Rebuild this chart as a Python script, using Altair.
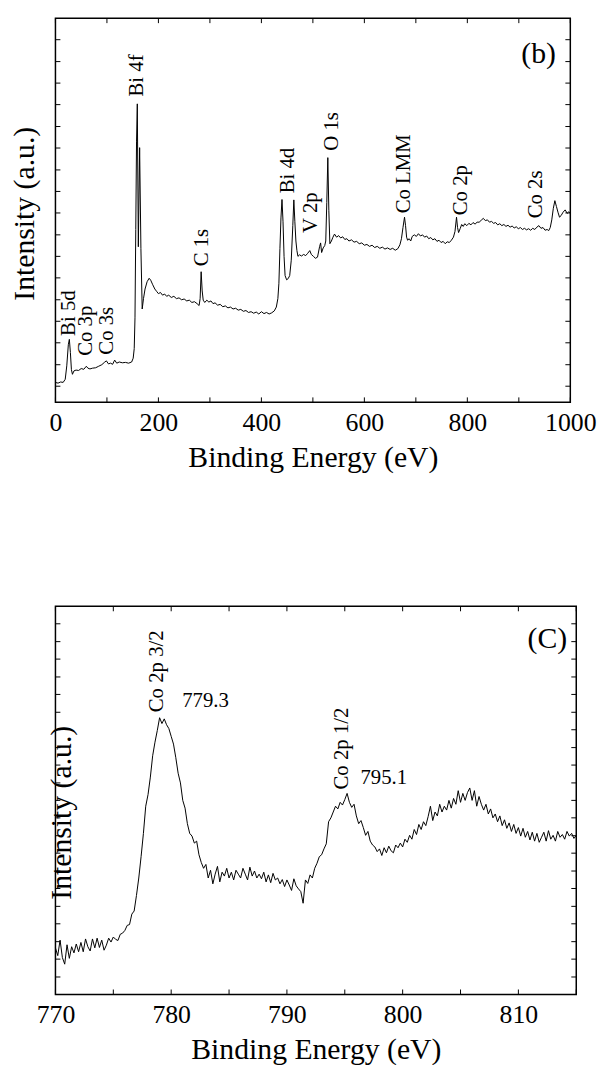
import altair as alt
import pandas as pd

FONT = "Liberation Serif"

# ---------------- survey spectrum (panel b) ----------------
survey_energy = [
    0, 5, 10, 15, 19, 22, 25, 27, 29, 31,
    33, 36, 40, 45, 50, 55, 60, 63, 67, 72,
    78, 84, 90, 95, 99, 103, 107, 111, 115, 119,
    124, 130, 136, 142, 148, 151, 153, 154.5, 156, 157.5,
    159, 161, 163.5, 166, 168.5, 171, 174, 178, 182, 185,
    189, 193, 197, 200, 204, 208, 212, 216, 220, 225,
    230, 235, 240, 245, 250, 255, 260, 265, 270, 275,
    279, 281, 283, 285, 287, 290, 294, 298, 302, 306,
    310, 315, 320, 325, 330, 335, 340, 345, 350, 355,
    360, 365, 370, 375, 380, 385, 390, 395, 400, 405,
    410, 415, 420, 425, 429, 432, 434, 436, 438, 440,
    442, 444, 446, 449, 452, 455, 458, 461, 463, 465,
    467, 469, 471, 474, 478, 482, 486, 490, 494, 497,
    501, 505, 509, 513, 515, 517, 520, 523, 525, 527,
    529, 531, 533, 536, 539, 542, 546, 550, 554, 558,
    562, 566, 570, 575, 580, 585, 590, 595, 600, 605,
    610, 615, 620, 625, 630, 635, 640, 645, 650, 655,
    660, 665, 669, 672, 675, 678, 680, 682, 684, 687,
    690, 693, 697, 701, 705, 709, 713, 717, 721, 725,
    729, 733, 737, 741, 745, 749, 753, 757, 761, 765,
    769, 773, 776, 779, 781, 783, 786, 789, 792, 795,
    799, 803, 807, 811, 815, 819, 823, 827, 831, 835,
    839, 843, 847, 851, 855, 859, 863, 867, 871, 875,
    879, 883, 887, 891, 895, 899, 903, 907, 911, 915,
    919, 923, 927, 931, 935, 939, 943, 947, 951, 955,
    958, 961, 964, 967, 970, 973, 976, 979, 982, 986,
    990, 994, 997, 1000,
]
survey_intensity = [
    5.2, 5.0, 5.3, 5.2, 6.0, 9.5, 15.0, 16.4, 13.0, 8.5,
    7.3, 8.2, 8.4, 8.3, 8.8, 8.6, 9.4, 8.9, 8.7, 8.9,
    9.0, 9.4, 9.8, 10.4, 10.8, 10.0, 10.2, 9.9, 11.0, 10.2,
    10.5, 10.3, 10.4, 10.2, 10.5, 11.5, 14.0, 22.0, 45.0, 68.0,
    77.7, 40.5, 66.3, 40.0, 24.3, 27.0, 29.5, 31.4, 32.3, 31.8,
    30.6, 29.5, 28.8, 28.3, 28.6, 27.9, 28.2, 27.6, 27.9, 27.3,
    27.6, 27.0, 27.2, 26.7, 26.9, 26.4, 26.6, 26.0, 26.2, 25.7,
    25.2, 27.0, 34.0, 29.0, 26.6, 26.0, 26.6, 26.1, 26.4, 25.7,
    25.9, 25.3, 25.5, 24.9, 25.1, 24.6, 24.8, 24.3, 24.5, 24.0,
    24.2, 23.7, 23.9, 23.4, 23.6, 23.2, 23.5, 23.0, 23.6, 23.1,
    23.4, 23.0, 23.3, 23.8, 24.8, 27.0, 31.0, 40.0, 48.0, 52.8,
    47.0, 38.0, 33.0, 31.9, 32.2, 33.0, 37.0, 46.0, 52.7, 47.0,
    42.0, 39.5, 38.0, 38.4, 38.1, 38.5, 38.2, 38.8, 39.5, 38.5,
    38.0, 37.5, 37.8, 40.5, 41.5, 39.0, 40.2, 40.8, 42.0, 52.0,
    63.7, 50.0, 41.3, 42.0, 43.0, 43.8, 43.0, 43.4, 42.8, 43.1,
    42.4, 42.6, 42.0, 42.3, 41.7, 41.9, 41.3, 41.5, 40.9, 41.1,
    40.6, 40.9, 40.3, 40.6, 40.1, 40.4, 39.9, 40.2, 39.8, 40.1,
    39.6, 40.0, 41.0, 42.6, 45.5, 48.2, 46.0, 43.0, 42.2, 42.6,
    42.0, 43.2, 43.6, 43.2, 43.9, 43.3, 43.6, 43.0, 43.3, 42.6,
    42.9, 42.3, 42.6, 41.9, 42.2, 41.6, 41.9, 41.3, 41.8, 41.6,
    42.2, 43.0, 44.5, 48.2, 45.5, 44.2, 45.2, 46.3, 45.8, 46.5,
    46.0, 46.6, 46.2, 46.8, 46.4, 46.9, 46.9, 47.4, 47.9, 47.3,
    47.5, 46.9, 47.1, 46.6, 46.8, 46.2, 46.5, 46.0, 46.3, 45.8,
    46.1, 45.6, 45.9, 45.4, 45.7, 45.2, 45.5, 45.0, 45.3, 44.9,
    45.2, 44.8, 45.3, 45.0, 45.6, 46.0, 45.3, 45.5, 44.8, 45.0,
    44.7, 45.5, 47.5, 50.5, 52.5, 51.0, 49.5, 48.2, 48.6, 49.5,
    50.1, 49.2, 49.6, 49.3,
]

survey_labels = ["Bi 5d", "Co 3p", "Co 3s", "Bi 4f", "C 1s", "Bi 4d",
                 "V 2p", "O 1s", "Co LMM", "Co 2p", "Co 2s"]
survey_label_energy = [26, 59, 101, 159, 284, 451, 497, 537, 678, 787, 934]
survey_label_intensity = [17.3, 12.1, 12.4, 79.6, 35.4, 54.4, 44.1, 65.5, 49.2, 48.7, 47.9]

survey_xticks = [0, 100, 200, 300, 400, 500, 600, 700, 800, 900, 1000]
survey_xlabels = [0, 200, 400, 600, 800, 1000]
survey_yticks = [94.4, 88.7, 83.1, 77.5, 71.8, 66.2, 60.5, 54.9, 49.3,
                 43.6, 38.0, 32.4, 26.7, 21.1, 15.5, 9.8, 4.2]

# ---------------- Co 2p high-resolution spectrum (panel C) ----------------
co_energy = [
    770.0, 770.2, 770.4, 770.6, 770.8, 771.0, 771.2, 771.4, 771.6, 771.8,
    772.0, 772.2, 772.4, 772.6, 772.8, 773.0, 773.2, 773.4, 773.6, 773.8,
    774.0, 774.2, 774.4, 774.6, 774.8, 775.0, 775.2, 775.4, 775.6, 775.8,
    776.0, 776.2, 776.4, 776.6, 776.8, 777.0, 777.2, 777.4, 777.6, 777.8,
    778.0, 778.2, 778.4, 778.6, 778.8, 779.0, 779.2, 779.4, 779.6, 779.8,
    780.0, 780.2, 780.4, 780.6, 780.8, 781.0, 781.2, 781.4, 781.6, 781.8,
    782.0, 782.2, 782.4, 782.6, 782.8, 783.0, 783.2, 783.4, 783.6, 783.8,
    784.0, 784.2, 784.4, 784.6, 784.8, 785.0, 785.2, 785.4, 785.6, 785.8,
    786.0, 786.2, 786.4, 786.6, 786.8, 787.0, 787.2, 787.4, 787.6, 787.8,
    788.0, 788.2, 788.4, 788.6, 788.8, 789.0, 789.2, 789.4, 789.6, 789.8,
    790.0, 790.2, 790.4, 790.6, 790.8, 791.0, 791.2, 791.4, 791.6, 791.8,
    792.0, 792.2, 792.4, 792.6, 792.8, 793.0, 793.2, 793.4, 793.6, 793.8,
    794.0, 794.2, 794.4, 794.6, 794.8, 795.0, 795.2, 795.4, 795.6, 795.8,
    796.0, 796.2, 796.4, 796.6, 796.8, 797.0, 797.2, 797.4, 797.6, 797.8,
    798.0, 798.2, 798.4, 798.6, 798.8, 799.0, 799.2, 799.4, 799.6, 799.8,
    800.0, 800.2, 800.4, 800.6, 800.8, 801.0, 801.2, 801.4, 801.6, 801.8,
    802.0, 802.2, 802.4, 802.6, 802.8, 803.0, 803.2, 803.4, 803.6, 803.8,
    804.0, 804.2, 804.4, 804.6, 804.8, 805.0, 805.2, 805.4, 805.6, 805.8,
    806.0, 806.2, 806.4, 806.6, 806.8, 807.0, 807.2, 807.4, 807.6, 807.8,
    808.0, 808.2, 808.4, 808.6, 808.8, 809.0, 809.2, 809.4, 809.6, 809.8,
    810.0, 810.2, 810.4, 810.6, 810.8, 811.0, 811.2, 811.4, 811.6, 811.8,
    812.0, 812.2, 812.4, 812.6, 812.8, 813.0, 813.2, 813.4, 813.6, 813.8,
    814.0, 814.2, 814.4, 814.6, 814.8, 815.0,
]
co_intensity = [
    12.0, 10.0, 14.0, 9.5, 7.8, 12.8, 9.3, 12.3, 10.7, 13.0,
    11.0, 13.4, 11.0, 14.3, 12.3, 11.2, 14.3, 12.0, 14.5, 12.1,
    14.0, 11.4, 12.7, 14.5, 13.5, 14.8, 14.2, 13.9, 15.5, 15.8,
    16.5, 17.8, 18.0, 20.7, 21.5, 25.5, 30.0, 35.5, 41.5, 48.5,
    51.5, 56.0, 61.5, 65.0, 68.0, 71.3, 69.8, 71.0, 69.5, 68.5,
    66.5, 64.5, 61.0, 57.0, 54.5, 50.0, 48.0, 44.0, 41.5, 40.8,
    39.0, 39.5, 36.0, 34.0, 32.5, 33.5, 30.0, 32.0, 28.5, 31.0,
    33.0, 29.0, 31.5, 30.5, 32.5, 30.0, 31.5, 29.5, 32.0, 31.0,
    30.0, 32.5, 31.0, 29.5, 32.8, 30.5, 31.8, 30.0, 31.0, 29.8,
    31.5, 29.0, 30.8, 28.8, 31.2, 29.5, 30.0, 28.5, 29.6, 27.8,
    29.5, 28.2, 26.8, 29.8, 28.0, 27.2, 26.5, 23.5, 29.5, 28.6,
    30.8, 30.0, 32.5, 33.8, 35.5, 36.0, 37.5, 38.8, 44.5, 45.5,
    47.0, 48.5, 47.8, 49.5, 48.8, 50.2, 51.8, 49.5, 48.2, 49.0,
    46.0, 44.0, 44.8, 43.0, 41.0, 42.0, 39.5, 38.5, 38.0, 36.8,
    37.5, 35.8, 37.8, 36.5, 38.2, 37.0, 36.5, 38.5, 37.8, 39.0,
    38.0, 40.0, 39.2, 41.0, 40.0, 42.5, 41.2, 43.8, 42.5, 44.5,
    43.5, 45.8, 48.5, 44.8, 47.0, 46.0, 49.0, 47.0, 48.5, 47.5,
    50.0, 48.0, 50.5, 49.0, 52.5, 49.5, 51.8, 50.0, 52.0, 53.2,
    50.0, 52.5, 48.5, 51.0, 49.0, 47.5, 49.0, 46.5, 47.8, 45.5,
    46.5, 44.5, 46.0, 43.5, 45.0, 42.8, 44.2, 42.0, 43.8, 41.5,
    43.0, 40.8, 42.8, 40.5, 42.0, 39.8, 41.8, 39.5, 41.5, 39.2,
    40.5, 41.8, 39.5, 42.2, 40.0, 41.0, 39.5, 42.0, 40.5, 41.2,
    40.0, 42.0, 40.8, 41.5, 40.2, 41.0,
]

co_peak_labels = ["Co 2p 3/2", "Co 2p 1/2"]
co_peak_energy = [778.8, 794.8]
co_peak_intensity = [72.7, 52.8]

co_value_labels = ["779.3", "795.1"]
co_value_energy = [780.95, 796.35]
co_value_intensity = [74.0, 54.1]

co_xticks = [770, 775, 780, 785, 790, 795, 800, 805, 810, 815]
co_xlabels = [770, 780, 790, 800, 810]
co_yticks = [4.5, 9.1, 13.6, 18.2, 22.7, 27.3, 31.8, 36.4, 40.9, 45.5, 50.0,
             54.5, 59.1, 63.6, 68.2, 72.7, 77.3, 81.8, 86.4, 90.9, 95.5]

Y_TITLE = "Intensity (a.u.)"
X_TITLE = "Binding Energy (eV)"
TICK_LEN = 5


def x_axis(label_values):
    return alt.Axis(
        title=X_TITLE, values=label_values, format="d",
        grid=False, domain=False, ticks=False, tickSize=0,
        labelFont=FONT, labelFontSize=26, labelColor="black",
        labelPadding=7, labelFlush=False, labelOverlap=False,
        titleFont=FONT, titleFontSize=30, titleFontWeight="normal",
        titleColor="black", titlePadding=8,
    )


def panel(energy, intensity, domain, w, h, xlabels, xticks, yticks,
          rot_labels, rot_e, rot_v, flat_labels, flat_e, flat_v,
          tag, tag_e, tag_v, title_x, title_y, spacer_x, spacer_bottom):
    xs = alt.Scale(domain=domain, nice=False, zero=False)
    ys = alt.Scale(domain=[0, 100], nice=False, zero=False)
    xa = x_axis(xlabels)

    spec = pd.DataFrame({"e": energy, "v": intensity})
    line = alt.Chart(spec).mark_line(color="black", strokeWidth=1.0).encode(
        x=alt.X("e:Q", scale=xs, axis=xa),
        y=alt.Y("v:Q", scale=ys, axis=None),
    )

    # inward ticks on all four sides of the frame
    xt = pd.DataFrame({"e": xticks})
    yt = pd.DataFrame({"v": yticks})
    tick_style = dict(color="black", strokeWidth=1)
    xt_bottom = alt.Chart(xt).mark_rule(**tick_style).encode(
        x=alt.X("e:Q", scale=xs, axis=xa),
        y=alt.value(h), y2=alt.value(h - TICK_LEN))
    xt_top = alt.Chart(xt).mark_rule(**tick_style).encode(
        x=alt.X("e:Q", scale=xs, axis=xa),
        y=alt.value(0), y2=alt.value(TICK_LEN))
    yt_left = alt.Chart(yt).mark_rule(**tick_style).encode(
        y=alt.Y("v:Q", scale=ys, axis=None),
        x=alt.value(0), x2=alt.value(TICK_LEN))
    yt_right = alt.Chart(yt).mark_rule(**tick_style).encode(
        y=alt.Y("v:Q", scale=ys, axis=None),
        x=alt.value(w), x2=alt.value(w - TICK_LEN))

    rot = pd.DataFrame({"e": rot_e, "v": rot_v, "t": rot_labels})
    rot_text = alt.Chart(rot).mark_text(
        angle=270, align="left", baseline="middle",
        font=FONT, fontSize=21, color="black",
    ).encode(
        x=alt.X("e:Q", scale=xs, axis=xa),
        y=alt.Y("v:Q", scale=ys, axis=None),
        text="t:N",
    )

    layers = [line, xt_bottom, xt_top, yt_left, yt_right, rot_text]

    if flat_labels:
        flat = pd.DataFrame({"e": flat_e, "v": flat_v, "t": flat_labels})
        layers.append(alt.Chart(flat).mark_text(
            align="left", baseline="alphabetic",
            font=FONT, fontSize=21, color="black",
        ).encode(
            x=alt.X("e:Q", scale=xs, axis=xa),
            y=alt.Y("v:Q", scale=ys, axis=None),
            text="t:N",
        ))

    tag_df = pd.DataFrame({"e": [tag_e], "v": [tag_v], "t": [tag]})
    layers.append(alt.Chart(tag_df).mark_text(
        align="center", baseline="alphabetic",
        font=FONT, fontSize=30, color="black",
    ).encode(
        x=alt.X("e:Q", scale=xs, axis=xa),
        y=alt.Y("v:Q", scale=ys, axis=None),
        text="t:N",
    ))

    # vertical axis title, drawn as a rotated text mark
    layers.append(alt.Chart(pd.DataFrame({"t": [Y_TITLE]})).mark_text(
        angle=270, align="center", baseline="middle",
        font=FONT, fontSize=30, color="black",
    ).encode(text="t:N", x=alt.value(title_x), y=alt.value(title_y)))

    # invisible guide that fixes the panel's outer extent
    layers.append(alt.Chart(pd.DataFrame({"t": [0]})).mark_rule(
        strokeOpacity=0, strokeWidth=0,
    ).encode(x=alt.value(spacer_x), x2=alt.value(spacer_x),
             y=alt.value(0), y2=alt.value(h + spacer_bottom)))

    return alt.layer(*layers).properties(width=w, height=h)


top = panel(
    survey_energy, survey_intensity, [0, 1000], 520, 388,
    survey_xlabels, survey_xticks, survey_yticks,
    survey_labels, survey_label_energy, survey_label_intensity,
    [], [], [],
    "(b)", 938.5, 88.4, -31, 197.5, -50, 80,
)

bottom = panel(
    co_energy, co_intensity, [770, 815], 526, 392,
    co_xlabels, co_xticks, co_yticks,
    co_peak_labels, co_peak_energy, co_peak_intensity,
    co_value_labels, co_value_energy, co_value_intensity,
    "(C)", 812.5, 89.3, 7, 208.5, -45, 0,
)

chart = alt.vconcat(top, bottom, spacing=123).properties(
    padding={"left": 5, "top": 11, "right": 5, "bottom": 5},
    background="white",
).configure_view(stroke="black", strokeWidth=1.5)

chart.save("out.html", embed_options={"renderer": "svg", "actions": False})
